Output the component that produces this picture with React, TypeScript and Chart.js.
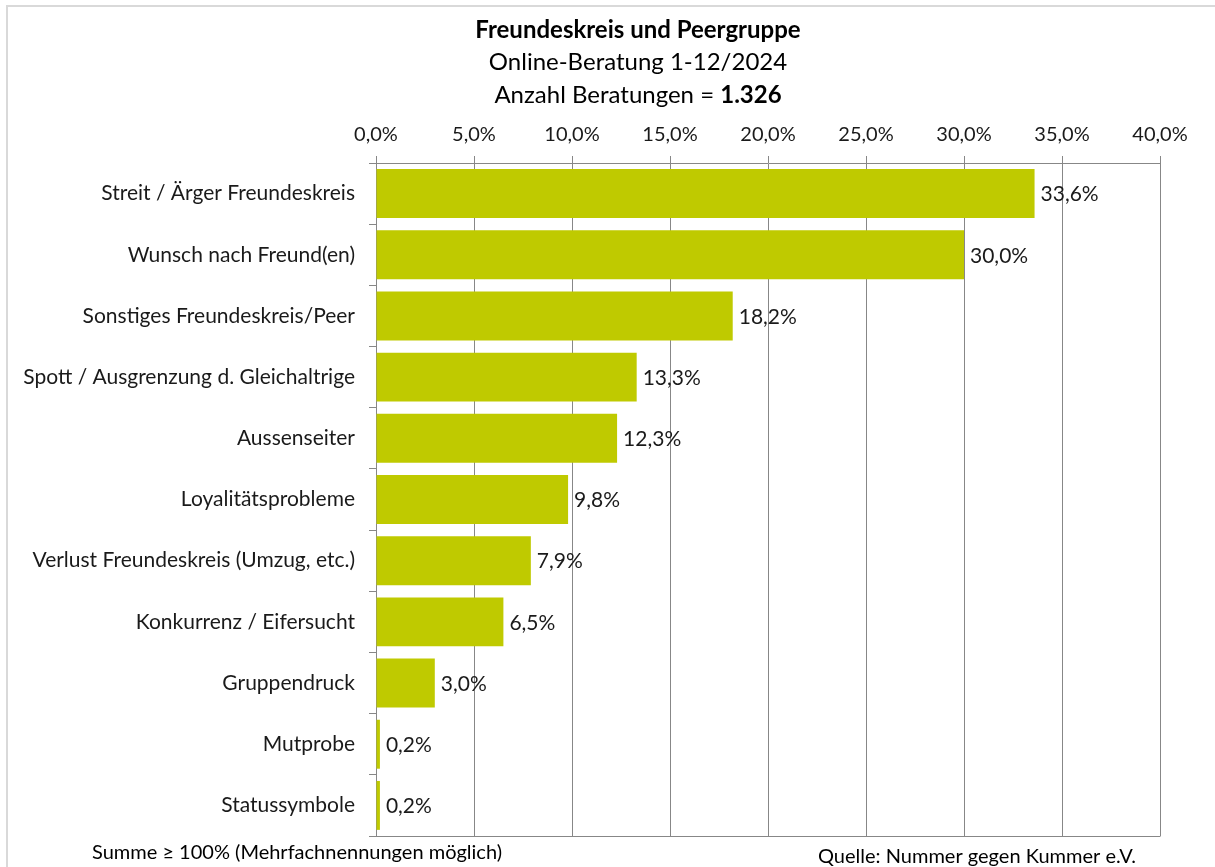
import React, { useEffect, useRef } from "react";
import { Chart, registerables } from "chart.js";

Chart.register(...registerables);

const categories = [
  "Streit / Ärger Freundeskreis",
  "Wunsch nach Freund(en)",
  "Sonstiges Freundeskreis/Peer",
  "Spott / Ausgrenzung d. Gleichaltrige",
  "Aussenseiter",
  "Loyalitätsprobleme",
  "Verlust Freundeskreis (Umzug, etc.)",
  "Konkurrenz / Eifersucht",
  "Gruppendruck",
  "Mutprobe",
  "Statussymbole",
];
const values = [33.6, 30.0, 18.2, 13.3, 12.3, 9.8, 7.9, 6.5, 3.0, 0.2, 0.2];
const xMin = 0;
const xMax = 40;
const xStep = 5;

const titleLine1 = "Freundeskreis und Peergruppe";
const titleLine2 = "Online-Beratung 1-12/2024";
const titleLine3a = "Anzahl Beratungen = ";
const titleLine3b = "1.326";
const footLeft = "Summe ≥ 100% (Mehrfachnennungen möglich)";
const footRight = "Quelle: Nummer gegen Kummer e.V.";

const FONT = "Lato, 'Open Sans', sans-serif";
const TEXT = "#1a1a1a";
const GRID = "#878787";
const BAR = "#bfca00";

const fmt = (v: number) => v.toFixed(1).replace(".", ",") + "%";

const textPlugin = {
  id: "texts",
  afterDraw(chart: any) {
    const ctx = chart.ctx;
    const area = chart.chartArea;
    ctx.save();
    ctx.strokeStyle = GRID;
    ctx.lineWidth = 1;
    ctx.beginPath();
    ctx.moveTo(area.left - 0.5, Math.round(area.bottom) + 0.5);
    ctx.lineTo(area.right + 0.5, Math.round(area.bottom) + 0.5);
    ctx.stroke();

    const cx = 638;
    ctx.fillStyle = "#000";
    ctx.textBaseline = "middle";
    ctx.textAlign = "center";
    ctx.font = `bold 24px ${FONT}`;
    ctx.fillText(titleLine1, cx, 30);
    ctx.font = `24px ${FONT}`;
    ctx.fillText(titleLine2, cx, 62);
    ctx.font = `24px ${FONT}`;
    const wa = ctx.measureText(titleLine3a).width;
    ctx.font = `bold 24px ${FONT}`;
    const wb = ctx.measureText(titleLine3b).width;
    const start = cx - (wa + wb) / 2;
    ctx.textAlign = "left";
    ctx.font = `24px ${FONT}`;
    ctx.fillText(titleLine3a, start, 95);
    ctx.font = `bold 24px ${FONT}`;
    ctx.fillText(titleLine3b, start + wa, 95);

    ctx.font = `20px ${FONT}`;
    ctx.fillStyle = "#000";
    ctx.textAlign = "left";
    ctx.fillText(footLeft, 92, 853);
    ctx.fillText(footRight, 818, 857);
    ctx.restore();
  },
  afterDatasetsDraw(chart: any) {
    const ctx = chart.ctx;
    const meta = chart.getDatasetMeta(0);
    ctx.save();
    ctx.font = `21px ${FONT}`;
    ctx.fillStyle = TEXT;
    ctx.textAlign = "left";
    ctx.textBaseline = "middle";
    meta.data.forEach((el: any, i: number) => {
      ctx.fillText(fmt(values[i]), el.x + 6, el.y + 1);
    });
    ctx.restore();
  },
};

export default function App() {
  const ref = useRef<HTMLCanvasElement | null>(null);
  useEffect(() => {
    if (!ref.current) return;
    const chart = new Chart(ref.current, {
      type: "bar",
      data: {
        labels: categories,
        datasets: [
          {
            data: values,
            backgroundColor: BAR,
            borderWidth: 0,
            barPercentage: 0.8,
            categoryPercentage: 1,
          },
        ],
      },
      options: {
        indexAxis: "y",
        responsive: false,
        animation: false,
        devicePixelRatio: 1,
        layout: { padding: { left: 0, top: 0, right: 55, bottom: 31 } },
        plugins: {
          legend: { display: false },
          tooltip: { enabled: false },
          title: { display: false },
        },
        scales: {
          x: {
            position: "top",
            min: xMin,
            max: xMax,
            ticks: {
              stepSize: xStep,
              callback: (v: any) => fmt(Number(v)),
              font: { family: FONT, size: 20 },
              color: TEXT,
              padding: 9,
              maxRotation: 0,
            },
            grid: { color: GRID, tickLength: 7, lineWidth: 1 },
            border: { display: true, color: GRID },
            afterFit: (s: any) => {
              s.height = 163;
            },
          },
          y: {
            ticks: {
              font: { family: FONT, size: 21 },
              color: TEXT,
              padding: 14,
            },
            grid: {
              drawOnChartArea: false,
              offset: true,
              tickLength: 7,
              color: GRID,
            },
            border: { display: true, color: GRID },
            afterFit: (s: any) => {
              s.width = 376;
            },
          },
        },
      },
      plugins: [textPlugin],
    } as any);
    return () => chart.destroy();
  }, []);

  return (
    <div style={{ position: "fixed", left: 0, top: 0, width: 1215, height: 867, background: "#fff" }}>
      <canvas ref={ref} width={1215} height={867} style={{ position: "absolute", left: 0, top: 0 }} />
      <div
        style={{
          position: "absolute",
          left: 6,
          top: 5,
          width: 1215,
          height: 870,
          borderLeft: "2px solid #d9d9d9",
          borderTop: "2px solid #d9d9d9",
          pointerEvents: "none",
        }}
      />
    </div>
  );
}
